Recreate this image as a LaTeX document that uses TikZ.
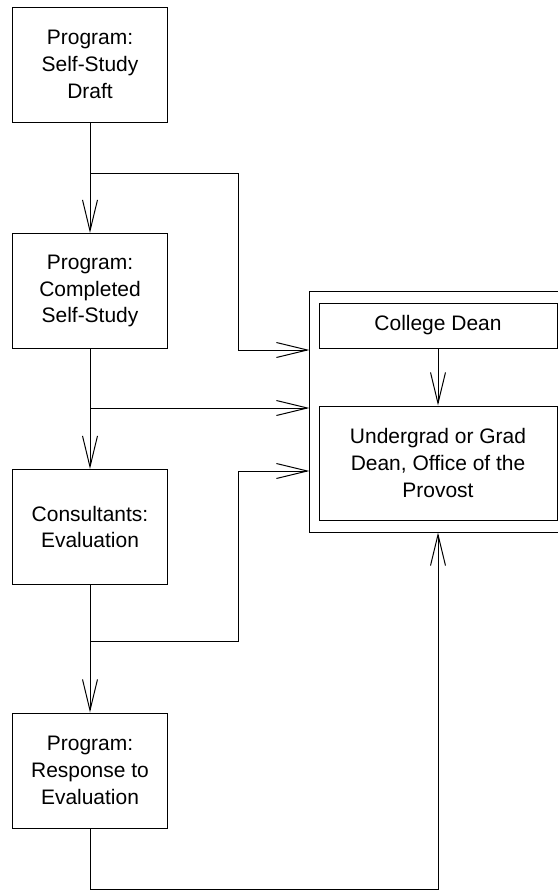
\documentclass[tikz,border=0pt]{standalone}
\usepackage{fontspec}
\setmainfont{Liberation Sans}
\usetikzlibrary{positioning,arrows.meta}
\tikzset{
  stagebox/.style={draw, align=center, minimum width=4.62cm, minimum height=3.45cm,
    inner sep=2pt, font=\fontsize{17.9pt}{23pt}\selectfont},
  deanbox/.style={draw, align=center, minimum width=7.14cm, inner sep=2pt,
    font=\fontsize{17.9pt}{23pt}\selectfont},
  groupbox/.style={draw, minimum width=7.47cm, minimum height=7.23cm, inner sep=0pt},
  flowarrow/.style={-{Straight Barb[length=0.93cm, width=0.45cm]}},
}

\begin{document}
\begin{tikzpicture}[x=0.03cm, y=-0.03cm, line width=0.85pt]
  \useasboundingbox (0,0) rectangle (558,890);
  % program side
  \node[stagebox] (draft) at (90,64.5) {Program:\\Self-Study\\Draft};
  \node[stagebox] (completed) at (90,291) {Program:\\Completed\\Self-Study};
  \node[stagebox] (consult) at (90,527) {Consultants:\\Evaluation};
  \node[stagebox] (response) at (90,770.5) {Program:\\Response to\\Evaluation};
  % deans
  \node[groupbox] (deans) at (434.5,411.5) {};
  \node[deanbox, minimum height=1.35cm] (college) at (438,325.5) {College Dean};
  \node[deanbox, minimum height=3.42cm] (provost) at (438,463)
    {Undergrad or Grad\\Dean, Office of the\\Provost};
  % branch points
  \coordinate (b1) at (90,173);
  \coordinate (c1) at (238,350);
  \coordinate (b2) at (90,408);
  \coordinate (b3) at (90,641);
  \coordinate (c3) at (238,471);
  \coordinate (c4) at (438,889);
  \draw[flowarrow] (draft.south) -- (completed.north);
  \draw[flowarrow] (completed.south) -- (consult.north);
  \draw[flowarrow] (consult.south) -- (response.north);
  \draw[flowarrow] (college.south) -- (provost.north);
  \draw[flowarrow] (b1) -| (c1) -- (c1 -| deans.west);
  \draw[flowarrow] (b2) -- (b2 -| deans.west);
  \draw[flowarrow] (b3) -| (c3) -- (c3 -| deans.west);
  \draw[flowarrow] (response.south) |- (c4) -- (c4 |- deans.south);
\end{tikzpicture}
\end{document}
